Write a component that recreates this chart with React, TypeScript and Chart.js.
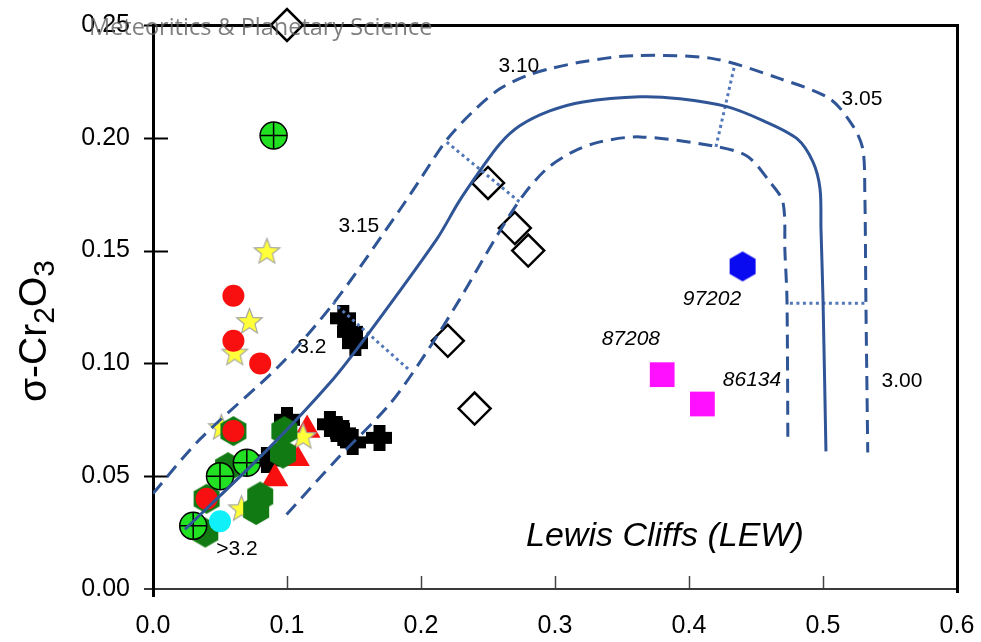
import React, { useEffect, useRef } from "react";
import { Chart, registerables } from "chart.js";
Chart.register(...registerables);

// ---------- axes ----------
const xTicks = [0, 0.1, 0.2, 0.3, 0.4, 0.5, 0.6];
const yTicks = [0, 0.05, 0.1, 0.15, 0.2, 0.25];

// ---------- contour lines ----------
const solidX = [0.0238, 0.0871, 0.1344, 0.1594, 0.2118, 0.2282, 0.2439, 0.2588, 0.2737, 0.2961, 0.3208, 0.3634, 0.3932, 0.4283, 0.4552, 0.4806, 0.4925, 0.4978, 0.4985, 0.5, 0.5022];
const solidY = [0.0264, 0.0628, 0.093, 0.1121, 0.1551, 0.1716, 0.1853, 0.1973, 0.2053, 0.2119, 0.2159, 0.2182, 0.2173, 0.2138, 0.2076, 0.1996, 0.1893, 0.1773, 0.1596, 0.1285, 0.061];

const upperX = [0, 0.0349, 0.0968, 0.1371, 0.1842, 0.1991, 0.2192, 0.2387, 0.2588, 0.2789, 0.2961, 0.3208, 0.3581, 0.4178, 0.4678, 0.5051, 0.5223, 0.5297, 0.5312, 0.532, 0.5334];
const upperY = [0.0423, 0.0663, 0.1005, 0.1285, 0.1681, 0.1813, 0.1991, 0.2116, 0.2217, 0.2275, 0.2306, 0.2337, 0.2364, 0.2351, 0.2262, 0.2173, 0.2053, 0.1951, 0.176, 0.1285, 0.0605];

const lowerX = [0.0997, 0.137, 0.1766, 0.2042, 0.229, 0.2566, 0.276, 0.2939, 0.3133, 0.3335, 0.3634, 0.4178, 0.4432, 0.4604, 0.4701, 0.4716, 0.4731, 0.4738];
const lowerY = [0.033, 0.0574, 0.0819, 0.105, 0.1285, 0.1565, 0.1743, 0.1863, 0.1938, 0.1982, 0.2004, 0.1964, 0.1919, 0.1804, 0.1715, 0.1493, 0.1285, 0.0641];

const dotted1X = [0.4201, 0.4343];
const dotted1Y = [0.196, 0.2328];
const dotted2X = [0.4753, 0.5328];
const dotted2Y = [0.1267, 0.1267];
const dotted3X = [0.2192, 0.2737];
const dotted3Y = [0.1981, 0.1715];
const dotted4X = [0.1342, 0.1916];
const dotted4Y = [0.1271, 0.0969];

// ---------- markers ----------
const diamondX = [0.1, 0.25, 0.27, 0.28, 0.22, 0.24];
const diamondY = [0.25, 0.18, 0.16, 0.15, 0.11, 0.08];

const squareX = [0.38, 0.41];
const squareY = [0.095, 0.082];

const blueHexX = [0.44];
const blueHexY = [0.143];

const crossCircleX = [0.09, 0.03, 0.05, 0.07];
const crossCircleY = [0.201, 0.028, 0.05, 0.056];

const redCircleX = [0.06, 0.06, 0.08, 0.06, 0.04];
const redCircleY = [0.13, 0.11, 0.1, 0.07, 0.04];

const greenHexX = [0.06, 0.04, 0.098, 0.097, 0.08, 0.077, 0.039, 0.056];
const greenHexY = [0.07, 0.04, 0.07, 0.06, 0.041, 0.035, 0.025, 0.054];

const starX = [0.085, 0.072, 0.061, 0.112, 0.066, 0.051];
const starY = [0.15, 0.119, 0.105, 0.068, 0.036, 0.072];

const triangleX = [0.115, 0.091, 0.107];
const triangleY = [0.0705, 0.049, 0.058];

const blackCrossX = [0.142, 0.147, 0.151, 0.132, 0.137, 0.142, 0.149, 0.169, 0.1, 0.085];
const blackCrossY = [0.12, 0.114, 0.109, 0.073, 0.071, 0.069, 0.065, 0.067, 0.075, 0.057];

const cyanX = [0.05];
const cyanY = [0.03];

// ---------- text labels ----------
const labelText = ["3.10", "3.05", "3.15", "3.2", "3.00", ">3.2"];
const labelX = [0.273, 0.5291, 0.1536, 0.1185, 0.5589, 0.0626];
const labelY = [0.2318, 0.2173, 0.1609, 0.1072, 0.0921, 0.0175];

const sampleText = ["97202", "87208", "86134"];
const sampleX = [0.4171, 0.3566, 0.447];
const sampleY = [0.1285, 0.1107, 0.0925];

const regionText = "Lewis Cliffs (LEW)";
const regionX = 0.382;
const regionY = 0.0232;

const watermark = "Meteoritics & Planetary Science";

const LINE = "#2f5597";
const DOT = "#5177b8";
const FONT = "'Liberation Sans', Arial, sans-serif";

const pts = (xs: number[], ys: number[]) => xs.map((x, i) => ({ x, y: ys[i] }));

function makeHex(r: number, fill: string) {
  const w = Math.ceil(r * Math.sqrt(3)) + 2;
  const h = Math.ceil(2 * r) + 2;
  const c = document.createElement("canvas");
  c.width = w;
  c.height = h;
  const ctx = c.getContext("2d")!;
  ctx.beginPath();
  for (let i = 0; i < 6; i++) {
    const a = -Math.PI / 2 + (i * Math.PI) / 3;
    const px = w / 2 + r * Math.cos(a);
    const py = h / 2 + r * Math.sin(a);
    if (i === 0) ctx.moveTo(px, py);
    else ctx.lineTo(px, py);
  }
  ctx.closePath();
  ctx.fillStyle = fill;
  ctx.fill();
  return c;
}

function makeStar(R: number, r: number, fill: string, stroke: string) {
  const s = Math.ceil(2 * R) + 4;
  const c = document.createElement("canvas");
  c.width = s;
  c.height = s;
  const ctx = c.getContext("2d")!;
  ctx.beginPath();
  for (let i = 0; i < 10; i++) {
    const rad = i % 2 === 0 ? R : r;
    const a = -Math.PI / 2 + (i * Math.PI) / 5;
    const px = s / 2 + rad * Math.cos(a);
    const py = s / 2 + 1.5 + rad * Math.sin(a);
    if (i === 0) ctx.moveTo(px, py);
    else ctx.lineTo(px, py);
  }
  ctx.closePath();
  ctx.fillStyle = fill;
  ctx.fill();
  ctx.lineWidth = 1.2;
  ctx.strokeStyle = stroke;
  ctx.stroke();
  return c;
}

function makeFatCross(size: number, arm: number, color: string) {
  const c = document.createElement("canvas");
  c.width = size;
  c.height = size;
  const ctx = c.getContext("2d")!;
  ctx.fillStyle = color;
  const o = (size - arm) / 2;
  ctx.fillRect(o, 0, arm, size);
  ctx.fillRect(0, o, size, arm);
  return c;
}

export default function App() {
  const ref = useRef<HTMLCanvasElement | null>(null);

  useEffect(() => {
    if (!ref.current) return;
    const greenHex = makeHex(15, "#127a12");
    const blueHex = makeHex(15, "#0a0af0");
    const star = makeStar(13.5, 5.8, "#ffff3a", "#a8a8a0");
    const fatCross = makeFatCross(26, 12, "#000000");

    const lineDs = (xs: number[], ys: number[], dash: number[], color: string, width: number) => ({
      data: pts(xs, ys),
      showLine: true,
      pointRadius: 0,
      borderColor: color,
      borderWidth: width,
      borderDash: dash,
      tension: dash.length && dash[0] < 5 ? 0 : 0.3,
      fill: false,
      order: 0,
    });

    const markerDs = (xs: number[], ys: number[], extra: any, order: number) => ({
      data: pts(xs, ys),
      showLine: false,
      clip: false,
      order,
      ...extra,
    });

    const plugin = {
      id: "decor",
      beforeDatasetsDraw(chart: any) {
        const { ctx, scales } = chart;
        const xs = scales.x;
        const ys = scales.y;
        const top = Math.round(ys.getPixelForValue(0.25));
        const left = Math.round(xs.getPixelForValue(0));
        const right = Math.round(xs.getPixelForValue(0.6));
        const bottom = Math.round(ys.getPixelForValue(0));
        ctx.save();
        ctx.setLineDash([]);
        ctx.strokeStyle = "#000";
        ctx.lineWidth = 2;
        yTicks.forEach((v) => {
          const py = Math.round(ys.getPixelForValue(v)) + 0.5;
          if (v === 0) return;
          ctx.beginPath();
          ctx.moveTo(left - 9, py);
          ctx.lineTo(left + 15, py);
          ctx.stroke();
        });
        ctx.strokeStyle = "#444";
        ctx.lineWidth = 1.5;
        xTicks.forEach((v) => {
          if (v === 0 || v === 0.6) return;
          const px = Math.round(xs.getPixelForValue(v)) + 0.5;
          ctx.beginPath();
          ctx.moveTo(px, bottom);
          ctx.lineTo(px, bottom - 13);
          ctx.stroke();
        });
        ctx.strokeStyle = "#3a3a3a";
        ctx.lineWidth = 2;
        ctx.beginPath();
        ctx.moveTo(left - 9, bottom);
        ctx.lineTo(right, bottom);
        ctx.stroke();
        ctx.fillStyle = "#000";
        ctx.fillRect(left, top - 1, right - left, 3);
        ctx.fillRect(right - 1, top - 1, 3, bottom - top + 5);
        ctx.fillRect(left - 1, top - 1, 3, bottom - top + 9);
        ctx.restore();
      },
      afterDatasetsDraw(chart: any) {
        const { ctx, scales } = chart;
        const xs = scales.x;
        const ys = scales.y;
        ctx.save();
        ctx.fillStyle = "#000";
        ctx.textAlign = "center";
        ctx.textBaseline = "middle";
        ctx.font = `21px ${FONT}`;
        labelText.forEach((t, i) => {
          ctx.fillText(t, xs.getPixelForValue(labelX[i]), ys.getPixelForValue(labelY[i]));
        });
        ctx.font = `italic 21px ${FONT}`;
        sampleText.forEach((t, i) => {
          ctx.fillText(t, xs.getPixelForValue(sampleX[i]), ys.getPixelForValue(sampleY[i]));
        });
        ctx.font = `italic 34px ${FONT}`;
        ctx.fillText(regionText, xs.getPixelForValue(regionX), ys.getPixelForValue(regionY));

        const parts: [string, boolean][] = [["σ-Cr", false], ["2", true], ["O", false], ["3", true]];
        const mainF = `39px ${FONT}`;
        const subF = `30px ${FONT}`;
        let total = 0;
        parts.forEach(([t, sub]) => {
          ctx.font = sub ? subF : mainF;
          total += ctx.measureText(t).width;
        });
        ctx.translate(46, 331);
        ctx.rotate(-Math.PI / 2);
        ctx.textAlign = "left";
        ctx.textBaseline = "alphabetic";
        let cx = -total / 2;
        parts.forEach(([t, sub]) => {
          ctx.font = sub ? subF : mainF;
          ctx.fillText(t, cx, sub ? 8 : 0);
          cx += ctx.measureText(t).width;
        });
        ctx.restore();
      },
      afterDraw(chart: any) {
        const { ctx } = chart;
        ctx.save();
        ctx.font = "23.5px 'Open Sans', sans-serif";
        ctx.fillStyle = "rgba(95,95,95,0.8)";
        ctx.textAlign = "left";
        ctx.textBaseline = "alphabetic";
        ctx.fillText(watermark, 89, 35);
        ctx.restore();
      },
    };

    const zeroPad = (s: any) => {
      s.paddingTop = 0;
      s.paddingBottom = 0;
      s.paddingLeft = 0;
      s.paddingRight = 0;
    };

    const chart = new Chart(ref.current, {
      type: "scatter",
      data: {
        datasets: [
          lineDs(solidX, solidY, [], LINE, 3),
          lineDs(upperX, upperY, [14, 8], LINE, 3),
          lineDs(lowerX, lowerY, [14, 8], LINE, 3),
          lineDs(dotted1X, dotted1Y, [3, 3.5], DOT, 3),
          lineDs(dotted2X, dotted2Y, [3, 3.5], DOT, 3),
          lineDs(dotted3X, dotted3Y, [3, 3.5], DOT, 3),
          lineDs(dotted4X, dotted4Y, [3, 3.5], DOT, 3),
          markerDs(crossCircleX, crossCircleY, { pointStyle: "cross", pointRadius: 13.5, borderColor: "#000", borderWidth: 1.5, backgroundColor: "rgba(0,0,0,0)" }, 1),
          markerDs(crossCircleX, crossCircleY, { pointStyle: "circle", pointRadius: 13.5, borderColor: "#000", borderWidth: 1.5, backgroundColor: "#22e022" }, 2),
          markerDs(cyanX, cyanY, { pointStyle: "circle", pointRadius: 11, borderWidth: 0, backgroundColor: "#10f0f8" }, 3),
          markerDs(redCircleX, redCircleY, { pointStyle: "circle", pointRadius: 11, borderWidth: 0, backgroundColor: "#f81010" }, 4),
          markerDs(greenHexX, greenHexY, { pointStyle: greenHex }, 5),
          markerDs(starX, starY, { pointStyle: star }, 6),
          markerDs(triangleX, triangleY, { pointStyle: "triangle", pointRadius: 15.5, borderWidth: 0, backgroundColor: "#f81010" }, 7),
          markerDs(blackCrossX, blackCrossY, { pointStyle: fatCross }, 8),
          markerDs(diamondX, diamondY, { pointStyle: "rectRot", pointRadius: 16, borderColor: "#000", borderWidth: 2.5, backgroundColor: "#fff" }, 9),
          markerDs(squareX, squareY, { pointStyle: "rect", pointRadius: 17.5, borderWidth: 0, backgroundColor: "#ff10ff" }, 10),
          markerDs(blueHexX, blueHexY, { pointStyle: blueHex }, 11),
        ] as any,
      },
      options: {
        animation: false,
        responsive: false,
        devicePixelRatio: 1,
        layout: { autoPadding: false, padding: { top: 25, right: 24, left: 0, bottom: 0 } },
        plugins: { legend: { display: false }, tooltip: { enabled: false }, title: { display: false } },
        events: [],
        scales: {
          x: {
            type: "linear",
            min: 0,
            max: 0.6,
            grid: { display: false },
            border: { display: false },
            ticks: {
              color: "#000",
              font: { family: FONT, size: 25 },
              padding: 14,
              maxRotation: 0,
              autoSkip: false,
              callback: (v: any) => Number(v).toFixed(1),
            },
            afterBuildTicks: (s: any) => {
              s.ticks = xTicks.map((v) => ({ value: v }));
            },
            afterFit: (s: any) => {
              s.height = 53;
              zeroPad(s);
            },
          },
          y: {
            type: "linear",
            min: 0,
            max: 0.25,
            grid: { display: false },
            border: { display: false },
            ticks: {
              color: "#000",
              font: { family: FONT, size: 25 },
              padding: 15,
              autoSkip: false,
              callback: (v: any) => Number(v).toFixed(2),
            },
            afterBuildTicks: (s: any) => {
              s.ticks = yTicks.map((v) => ({ value: v }));
            },
            afterFit: (s: any) => {
              s.width = 153;
              zeroPad(s);
            },
          },
        },
      } as any,
      plugins: [plugin],
    });
    return () => chart.destroy();
  }, []);

  return (
    <div style={{ position: "absolute", left: 0, top: 0, width: 981, height: 642, background: "#fff" }}>
      <canvas ref={ref} width={981} height={642} style={{ display: "block" }} />
    </div>
  );
}
